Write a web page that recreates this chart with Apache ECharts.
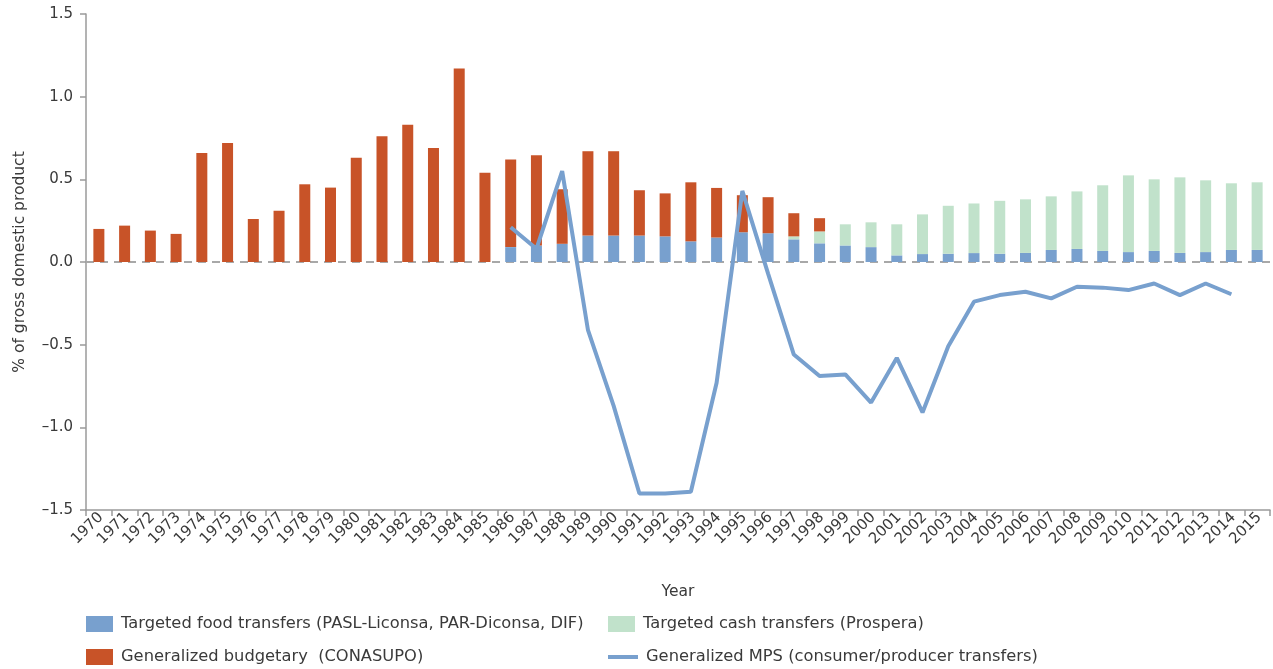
<!DOCTYPE html>
<html>
<head>
<meta charset="utf-8">
<script src="https://cdn.jsdelivr.net/npm/echarts@6/dist/echarts.min.js"></script>
<style>
  html, body { margin: 0; padding: 0; background: #fff; }
  #container { width: 1273px; height: 669px; }
</style>
</head>
<body>
<div id="container"></div>
<script>
// years 1970-2015
var years = [];
for (var y = 1970; y <= 2015; y++) years.push(String(y));

// Targeted food transfers (PASL-Liconsa, PAR-Diconsa, DIF)
var foodTransfers = [
    null, null, null, null, null, null, null, null, null, null,
    null, null, null, null, null, null,
    0.09, 0.10, 0.11, 0.16, 0.16, 0.16, 0.155, 0.125, 0.148, 0.18,
    0.174, 0.137, 0.113, 0.10, 0.09, 0.04, 0.048, 0.05, 0.054, 0.05,
    0.055, 0.073, 0.079, 0.067, 0.06, 0.067, 0.055, 0.06, 0.073, 0.073
];
// Targeted cash transfers (Prospera)
var cashTransfers = [
    null, null, null, null, null, null, null, null, null, null,
    null, null, null, null, null, null, null, null, null, null,
    null, null, null, null, null, null, null,
    0.018, 0.072, 0.128, 0.15, 0.188, 0.24, 0.29, 0.30, 0.32,
    0.324, 0.324, 0.348, 0.397, 0.464, 0.433, 0.457, 0.434, 0.403, 0.409
];
// Generalized budgetary (CONASUPO)
var budgetary = [
    0.20, 0.22, 0.19, 0.17, 0.66, 0.72, 0.26, 0.31, 0.47, 0.45,
    0.63, 0.76, 0.83, 0.69, 1.17, 0.54,
    0.53, 0.545, 0.33, 0.51, 0.51, 0.274, 0.26, 0.357, 0.30, 0.224,
    0.218, 0.14, 0.08,
    null, null, null, null, null, null, null, null, null, null,
    null, null, null, null, null, null, null
];
// Generalized MPS (consumer/producer transfers)
var mps = [
    null, null, null, null, null, null, null, null, null, null,
    null, null, null, null, null, null,
    0.21, 0.08, 0.55, -0.41, -0.87, -1.40, -1.40, -1.39, -0.73, 0.43,
    -0.07, -0.56, -0.69, -0.68, -0.85, -0.58, -0.91, -0.51, -0.24, -0.20,
    -0.18, -0.22, -0.15, -0.155, -0.17, -0.13, -0.20, -0.13, -0.195, null
];

var FONT = 'DejaVu Sans';
var TXT = '#3a3a3a';

var myChart = echarts.init(document.getElementById('container'));

function legendAt(name, left, top, extra) {
    var l = {
        data: [name],
        left: left,
        top: top,
        padding: 0,
        itemWidth: 27,
        itemHeight: 16,
        icon: 'rect',
        selectedMode: false,
        textStyle: { fontFamily: FONT, fontSize: 16.3, color: TXT, padding: [0, 0, 0, 3] }
    };
    for (var k in extra) l[k] = extra[k];
    return l;
}

myChart.setOption({
    animation: false,
    textStyle: { fontFamily: FONT },
    grid: { left: 86, right: 3, top: 14, bottom: 159, outerBoundsMode: 'none' },
    legend: [
        legendAt('Targeted food transfers (PASL-Liconsa, PAR-Diconsa, DIF)', 86, 616),
        legendAt('Targeted cash transfers (Prospera)', 608, 616),
        legendAt('Generalized budgetary  (CONASUPO)', 86, 649),
        legendAt('Generalized MPS (consumer/producer transfers)', 608, 649,
            { itemWidth: 30, itemHeight: 4 })
    ],
    xAxis: {
        type: 'category',
        data: years,
        name: 'Year',
        nameLocation: 'middle',
        nameGap: 74,
        nameTextStyle: { fontFamily: FONT, fontSize: 15.5, color: TXT },
        axisLine: { onZero: false, lineStyle: { color: '#9a9a9a', width: 1.5 } },
        axisTick: { show: true, length: 6, lineStyle: { color: '#9a9a9a', width: 1.5 } },
        axisLabel: {
            rotate: 45, interval: 0, fontFamily: FONT, fontSize: 15, color: TXT,
            margin: 7, padding: [14, -3, 0, 0]
        }
    },
    yAxis: {
        type: 'value',
        min: -1.5,
        max: 1.5,
        interval: 0.5,
        name: '% of gross domestic product',
        nameLocation: 'middle',
        nameGap: 58,
        nameTextStyle: { fontFamily: FONT, fontSize: 15.5, color: TXT },
        splitLine: { show: false },
        axisLine: { show: true, lineStyle: { color: '#9a9a9a', width: 1.5 } },
        axisTick: { show: true, length: 6, lineStyle: { color: '#9a9a9a', width: 1.5 } },
        axisLabel: {
            fontFamily: FONT, fontSize: 15, color: TXT, margin: 13,
            formatter: function (v) { return v.toFixed(1).replace('-', '\u2013'); }
        }
    },
    series: [{
        name: 'Targeted food transfers (PASL-Liconsa, PAR-Diconsa, DIF)',
        type: 'bar',
        stack: 'total',
        barWidth: 11,
        itemStyle: { color: '#78a0ce' },
        data: foodTransfers
    }, {
        name: 'Targeted cash transfers (Prospera)',
        type: 'bar',
        stack: 'total',
        barWidth: 11,
        itemStyle: { color: '#c1e2cb' },
        data: cashTransfers
    }, {
        name: 'Generalized budgetary  (CONASUPO)',
        type: 'bar',
        stack: 'total',
        barWidth: 11,
        itemStyle: { color: '#c85328' },
        data: budgetary,
        markLine: {
            silent: true,
            z: 1,
            symbol: 'none',
            label: { show: false },
            lineStyle: { color: '#a8a8a8', type: [8, 6], width: 2 },
            data: [{ yAxis: 0 }]
        }
    }, {
        name: 'Generalized MPS (consumer/producer transfers)',
        type: 'line',
        showSymbol: false,
        symbol: 'none',
        connectNulls: false,
        itemStyle: { color: '#78a0ce' },
        lineStyle: { color: '#78a0ce', width: 4 },
        z: 3,
        data: mps
    }]
});
</script>
</body>
</html>
